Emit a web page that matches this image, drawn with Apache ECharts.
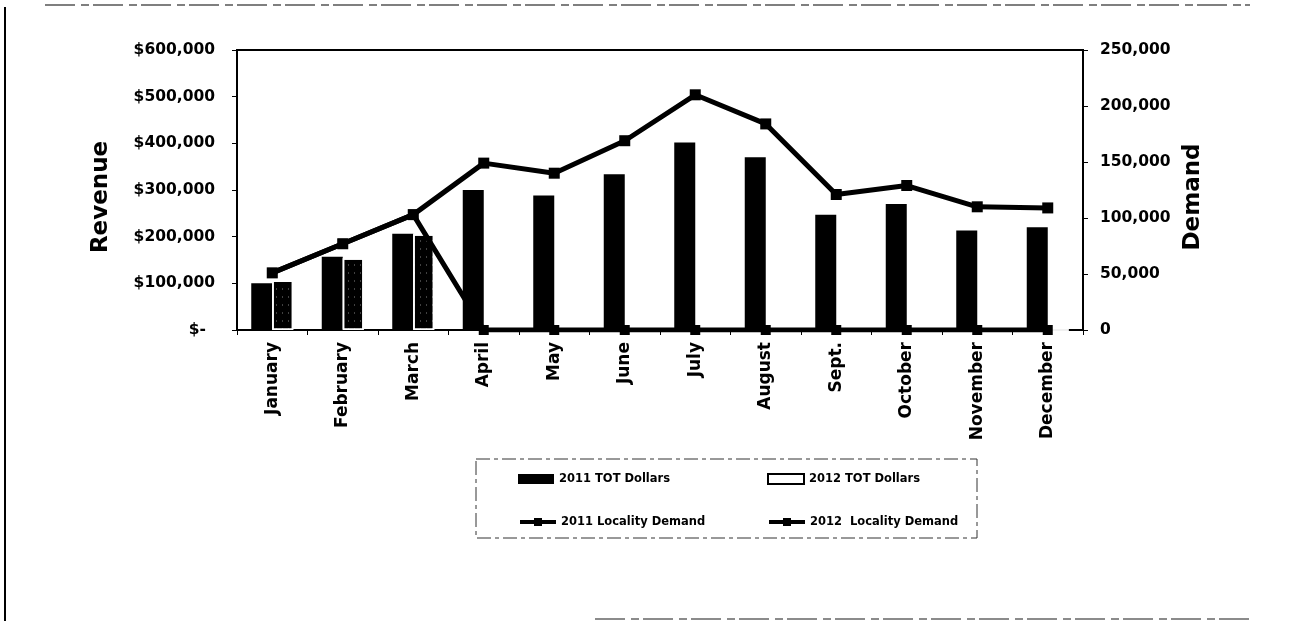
<!DOCTYPE html>
<html>
<head>
<meta charset="utf-8">
<script src="https://cdn.jsdelivr.net/npm/echarts@6/dist/echarts.min.js"></script>
<style>html,body{margin:0;padding:0;background:#fff;}#c{width:1291px;height:621px;}</style>
</head>
<body>
<div id="c"></div>
<script>
const months = ['January','February','March','April','May','June','July','August','Sept.','October','November','December'];
const rev2011 = [100000, 157000, 206000, 300000, 288000, 334000, 402000, 370000, 247000, 270000, 213000, 220000];
const rev2012 = [106000, 154000, 205000, 0, 0, 0, 0, 0, 0, 0, 0, 0];
const dem2011 = [51000, 77000, 103000, 149000, 140000, 169000, 210000, 184000, 121000, 129000, 110000, 109000];
const dem2012 = [51000, 77000, 103000, 0, 0, 0, 0, 0, 0, 0, 0, 0];
const seriesNames = ['2011 TOT Dollars', '2012 TOT Dollars', '2011 Locality Demand', '2012  Locality Demand'];

const FONT = 'DejaVu Sans';
const chart = echarts.init(document.getElementById('c'), null, {renderer: 'canvas'});
const fmtNum = v => v.toLocaleString('en-US');

const legendBase = {
  orient: 'horizontal', padding: 0, itemWidth: 36, itemHeight: 10, itemGap: 0,
  textStyle: {fontFamily: FONT, fontWeight: 'bold', fontSize: 11.5, color: '#000'},
  selectedMode: false
};

const option = {
  backgroundColor: '#fff',
  animation: false,
  grid: {left: 237, right: 208, top: 50, bottom: 291, show: true, borderColor: '#000', borderWidth: 2, backgroundColor: 'transparent'},
  legend: [
    Object.assign({}, legendBase, {left: 518, top: 473, data: [{name: seriesNames[0], icon: 'rect'}]}),
    Object.assign({}, legendBase, {left: 767, top: 473, data: [{name: seriesNames[1], icon: 'rect',
      itemStyle: {color: '#fff', borderColor: '#000', borderWidth: 2}}]}),
    Object.assign({}, legendBase, {left: 518, top: 516, data: [{name: seriesNames[2], lineStyle: {width: 4, color: '#000'}, itemStyle: {color: '#000'}}]}),
    Object.assign({}, legendBase, {left: 767, top: 516, data: [{name: seriesNames[3], lineStyle: {width: 4, color: '#000'}, itemStyle: {color: '#000'}}]})
  ],
  xAxis: {
    type: 'category', data: months, boundaryGap: true,
    axisLine: {lineStyle: {color: '#000', width: 2}},
    axisTick: {show: true, length: 5, lineStyle: {color: '#000', width: 1}},
    axisLabel: {rotate: 90, margin: 12, fontFamily: FONT, fontWeight: 'bold', fontSize: 17, color: '#000'}
  },
  yAxis: [
    {
      type: 'value', min: 0, max: 600000, interval: 100000, position: 'left',
      name: 'Revenue', nameLocation: 'middle', nameGap: 124,
      nameTextStyle: {fontFamily: FONT, fontWeight: 'bold', fontSize: 23, color: '#000', padding: [0, 14, 0, 0]},
      axisLine: {show: true, lineStyle: {color: '#000', width: 2}},
      axisTick: {show: true, length: 5, lineStyle: {color: '#000'}},
      splitLine: {show: false},
      axisLabel: {
        margin: 22, fontFamily: FONT, fontWeight: 'bold', fontSize: 15.5, color: '#000',
        formatter: v => v === 0 ? '{z|$-}' : '$' + fmtNum(v),
        rich: {z: {fontFamily: FONT, fontWeight: 'bold', fontSize: 15.5, color: '#000', padding: [0, 9, 0, 0]}}
      }
    },
    {
      type: 'value', min: 0, max: 250000, interval: 50000, position: 'right',
      name: 'Demand', nameLocation: 'middle', nameGap: 93, nameRotate: 90,
      nameTextStyle: {fontFamily: FONT, fontWeight: 'bold', fontSize: 23, color: '#000', padding: [0, 14, 0, 0]},
      axisLine: {show: true, lineStyle: {color: '#000', width: 2}},
      axisTick: {show: true, length: 5, lineStyle: {color: '#000'}},
      splitLine: {show: false},
      axisLabel: {margin: 17, fontFamily: FONT, fontWeight: 'bold', fontSize: 15.5, color: '#000', formatter: v => fmtNum(v)}
    }
  ],
  series: [
    {
      name: seriesNames[0], type: 'bar', yAxisIndex: 0, data: rev2011,
      barWidth: 21, barGap: '0%',
      itemStyle: {color: '#000'}
    },
    {
      name: seriesNames[1], type: 'bar', yAxisIndex: 0, data: rev2012,
      barWidth: 21, barGap: '0%',
      itemStyle: {
        color: '#000', borderColor: '#fff', borderWidth: 1.5,
        decal: {symbol: 'rect', symbolSize: 0.6, color: 'rgba(255,255,255,0.85)', dashArrayX: [1, 5], dashArrayY: [2, 6], rotation: 0}
      }
    },
    {
      name: seriesNames[2], type: 'line', yAxisIndex: 1, data: dem2011, z: 5,
      symbol: 'rect', symbolSize: 11, showSymbol: true,
      lineStyle: {color: '#000', width: 5}, itemStyle: {color: '#000'}
    },
    {
      name: seriesNames[3], type: 'line', yAxisIndex: 1, data: dem2012, z: 6,
      symbol: 'rect', symbolSize: 10, showSymbol: true,
      lineStyle: {color: '#000', width: 5}, itemStyle: {color: '#000'}
    }
  ],
  graphic: [
    {type: 'line', shape: {x1: 5, y1: 7, x2: 5, y2: 621}, style: {stroke: '#000', lineWidth: 2}},
    {type: 'line', shape: {x1: 45, y1: 5, x2: 1250, y2: 5}, style: {stroke: '#555', lineWidth: 1.5, lineDash: [30, 6, 8, 4]}},
    {type: 'line', shape: {x1: 595, y1: 619, x2: 1255, y2: 619}, style: {stroke: '#666', lineWidth: 1.5, lineDash: [30, 6, 8, 4]}},
    {type: 'rect', shape: {x: 476, y: 459, width: 501, height: 79}, style: {fill: 'none', stroke: '#333', lineWidth: 1, lineDash: [14, 4, 4, 4]}}
  ]
};
chart.setOption(option);
</script>
</body>
</html>
